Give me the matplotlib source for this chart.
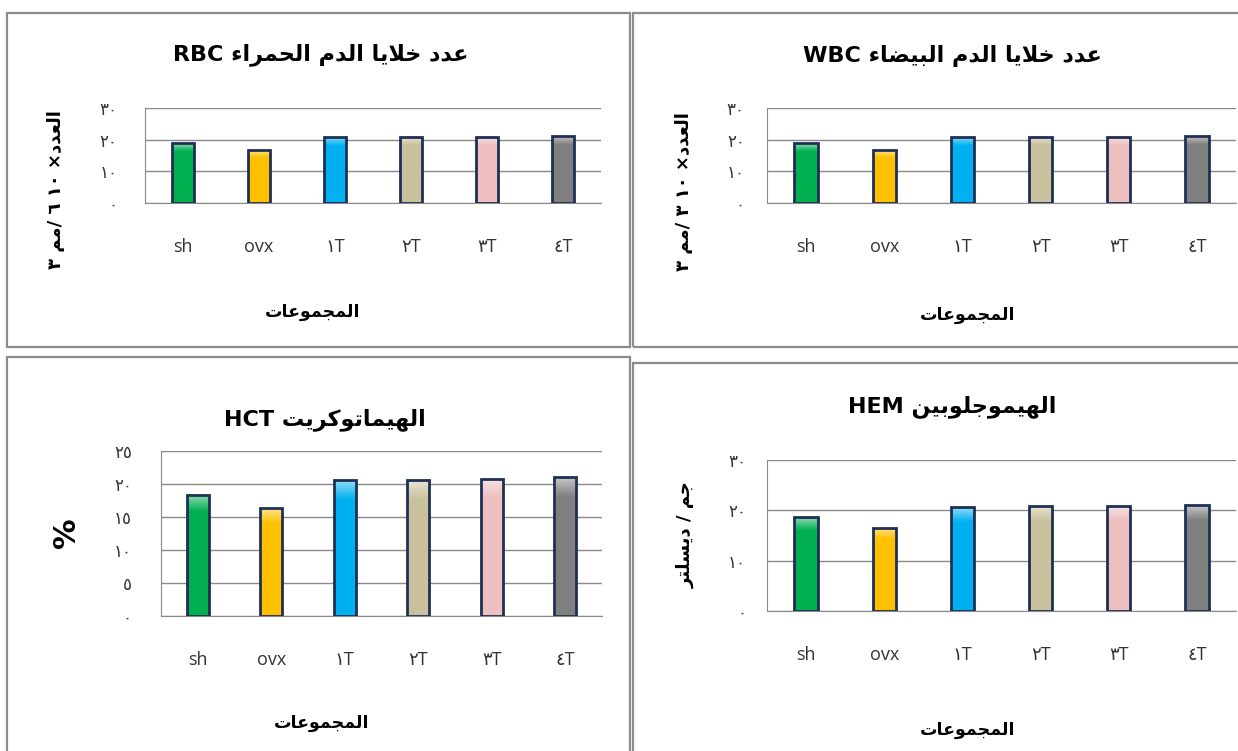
import matplotlib
matplotlib.use('Agg')
import numpy as np
import matplotlib.pyplot as plt
from matplotlib.patches import Rectangle
from matplotlib.ticker import FuncFormatter

# data
groups = ['sh', 'ovx', '١T', '٢T', '٣T', '٤T']
rbc = [18.8, 16.7, 20.9, 20.9, 20.9, 21.3]
wbc = [18.8, 16.7, 20.9, 20.9, 20.9, 21.3]
hct = [18.4, 16.3, 20.6, 20.6, 20.8, 21.0]
hem = [18.6, 16.5, 20.6, 20.8, 20.8, 21.0]
bar_colors = ['#00B050', '#FFC000', '#00B0F0', '#C9C19B', '#EDBFBF', '#7F7F7F']

W, H = 1238, 751

# matplotlib has no arabic shaping/bidi, so shape by hand with presentation forms
# letter -> (isolated form code, number of forms)
AR = {'ء': (0xFE80, 1), 'ا': (0xFE8D, 2), 'ب': (0xFE8F, 4), 'ة': (0xFE93, 2), 'ت': (0xFE95, 4),
      'ج': (0xFE9D, 4), 'ح': (0xFEA1, 4), 'خ': (0xFEA5, 4), 'د': (0xFEA9, 2), 'ر': (0xFEAD, 2),
      'س': (0xFEB1, 4), 'ض': (0xFEBD, 4), 'ع': (0xFEC9, 4), 'ك': (0xFED9, 4), 'ل': (0xFEDD, 4),
      'م': (0xFEE1, 4), 'ن': (0xFEE5, 4), 'ه': (0xFEE9, 4), 'و': (0xFEED, 2), 'ي': (0xFEF1, 4),
      '\uFEFB': (0xFEFB, 2)}

def ar(text):
    chars = list(text.replace('لا', '\uFEFB'))
    out = []
    for i, c in enumerate(chars):
        if c not in AR:
            out.append(c)
            continue
        base, n = AR[c]
        prev = chars[i-1] if i > 0 else ''
        nxt = chars[i+1] if i + 1 < len(chars) else ''
        jp = n > 1 and prev in AR and AR[prev][1] == 4
        jn = n == 4 and nxt in AR and AR[nxt][1] > 1
        form = 3 if (jp and jn) else 1 if jp else 2 if jn else 0
        out.append(chr(base + form))
    return ''.join(reversed(out))

def ar_digits(v, pos=None):
    return ''.join('٠١٢٣٤٥٦٧٨٩'[int(d)] for d in str(int(round(v))))

def px(x, y):
    return x / W, 1 - y / H

AR_FONT = ['DejaVu Sans']
TICK_FONT = ['Open Sans', 'DejaVu Sans']

# white sheen at the top of each bar, fading down
sheen = np.ones((64, 1, 4))
sheen[:, 0, 3] = np.clip(0.55 - np.linspace(0, 1, 64) * 4, 0, 1)

fig = plt.figure(figsize=(W / 100, H / 100), dpi=100)
fig.patch.set_facecolor('white')

# panel frames
for x0, y0, x1, y1 in [(7, 13, 630, 347), (633, 13, 1245, 347), (7, 357, 630, 760), (633, 363, 1245, 760)]:
    fig.add_artist(Rectangle(px(x0, y1), (x1 - x0) / W, (y1 - y0) / H, transform=fig.transFigure,
                             fill=False, edgecolor='#8C8C8C', lw=1.6))

panels = [
    # values, axes rect px (left, top, right, bottom), ymax, ystep, title, title xy, xlabel xy, ylabel, ylabel xy, ypad
    (rbc, (145, 108, 601, 203), 30, 10, 'RBC ' + ar('عدد خلايا الدم الحمراء'), (321, 55), (313, 312),
     '٣ ' + ar('مم') + '/ ٦ ١٠ ×' + ar('العدد'), (56, 190), 20),
    (wbc, (767, 108, 1236, 203), 30, 10, 'WBC ' + ar('عدد خلايا الدم البيضاء'), (952, 56), (968, 315),
     '٣ ' + ar('مم') + '/ ٣ ١٠ ×' + ar('العدد'), (684, 192), 16),
    (hct, (161, 451, 602, 616), 25, 5, 'HCT ' + ar('الهيماتوكريت'), (325, 420), (322, 723),
     '%', (66, 533), 21),
    (hem, (767, 460, 1236, 611), 30, 10, 'HEM ' + ar('الهيموجلوبين'), (952, 407), (968, 730),
     ar('ديسلتر') + ' / ' + ar('جم'), (686, 535), 15),
]

for vals, (l, t, r, b), ymax, ystep, title, txy, xlxy, ylab, ylxy, ypad in panels:
    ax = fig.add_axes([l / W, 1 - b / H, (r - l) / W, (b - t) / H])
    x = range(len(groups))
    bars = ax.bar(x, vals, width=0.3, color=bar_colors, linewidth=0, zorder=3)
    for bar in bars:
        bx, bw, bh = bar.get_x(), bar.get_width(), bar.get_height()
        im = ax.imshow(sheen, extent=(bx, bx + bw, 0, bh), aspect='auto', zorder=3.5,
                       interpolation='bilinear')
        im.set_clip_path(bar)
    # outlines on top of the sheen
    ax.bar(x, vals, width=0.3, fill=False, edgecolor='#1F2F55', linewidth=2, zorder=4)
    ax.set_xlim(-0.5, len(groups) - 0.5)
    ax.set_ylim(0, ymax)
    ax.set_yticks(range(0, ymax + 1, ystep))
    ax.yaxis.set_major_formatter(FuncFormatter(ar_digits))
    ax.set_xticks(list(x))
    ax.set_xticklabels(groups, family=TICK_FONT, fontsize=13, color='#333333')
    ax.grid(axis='y', color='#8A8A8A', lw=1, zorder=0)
    for s in ['top', 'right']:
        ax.spines[s].set_visible(False)
    for s in ['left', 'bottom']:
        ax.spines[s].set_color('#8A8A8A')
    ax.tick_params(axis='both', length=0)
    ax.tick_params(axis='x', pad=25)
    ax.tick_params(axis='y', pad=ypad, labelsize=12, labelcolor='#333333')
    for lab in ax.get_yticklabels():
        lab.set_family(AR_FONT)

    fig.text(*px(*txy), title, ha='center', va='center', fontsize=16, fontweight='bold', family=AR_FONT)
    fig.text(*px(*xlxy), ar('المجموعات'), ha='center', va='center', fontsize=12.5, fontweight='bold', family=AR_FONT)
    if ylab == '%':
        fig.text(*px(*ylxy), ylab, ha='center', va='center', fontsize=22, fontweight='bold', rotation=90)
    else:
        fig.text(*px(*ylxy), ylab, ha='center', va='center', fontsize=13, fontweight='bold', rotation=90, family=AR_FONT)

fig.savefig('out.png', dpi=100)
